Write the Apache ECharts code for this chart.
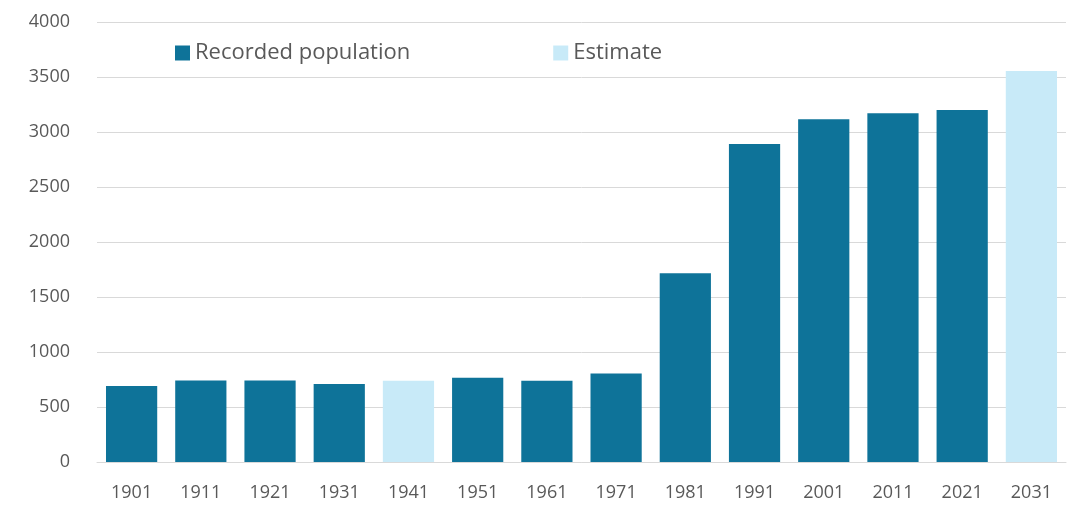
<!DOCTYPE html>
<html><head><meta charset="utf-8">
<script src="https://cdn.jsdelivr.net/npm/echarts@6/dist/echarts.min.js"></script>
<style>html,body{margin:0;padding:0;background:#fff}#c{width:1069px;height:513px}</style>
</head><body><div id="c"></div>
<script>
const years = ['1901','1911','1921','1931','1941','1951','1961','1971','1981','1991','2001','2011','2021','2031'];
const recorded = [690, 740, 740, 710, null, 765, 738, 805, 1715, 2890, 3115, 3170, 3200, null];
const estimate = [null, null, null, null, 738, null, null, null, null, null, null, null, null, 3555];
const yTicks = [0, 500, 1000, 1500, 2000, 2500, 3000, 3500, 4000];

const chart = echarts.init(document.getElementById('c'));
chart.setOption({
  animation: false,
  textStyle: {fontFamily: 'Open Sans'},
  legend: {
    left: 170, top: 37, itemWidth: 15, itemHeight: 15, itemGap: 143,
    icon: 'rect',
    textStyle: {fontSize: 22, color: '#595959', fontFamily: 'Open Sans'},
    data: ['Recorded population', 'Estimate']
  },
  grid: {left: 97, right: 3, top: 22, bottom: 51},
  xAxis: {
    type: 'category', data: years,
    axisLine: {lineStyle: {color: '#d9d9d9'}},
    axisTick: {show: false},
    axisLabel: {color: '#595959', fontSize: 18, margin: 22}
  },
  yAxis: {
    type: 'value', min: yTicks[0], max: yTicks[yTicks.length-1], interval: 500,
    axisLine: {show: false}, axisTick: {show: false},
    splitLine: {lineStyle: {color: '#d9d9d9'}},
    axisLabel: {color: '#595959', fontSize: 18, margin: 27, formatter: v => String(v)}
  },
  series: [
    {name: 'Recorded population', type: 'bar', stack: 'a', data: recorded,
     barCategoryGap: '26%', itemStyle: {color: '#0e7399'}},
    {name: 'Estimate', type: 'bar', stack: 'a', data: estimate,
     itemStyle: {color: '#c8eaf8'}}
  ]
});
</script></body></html>
